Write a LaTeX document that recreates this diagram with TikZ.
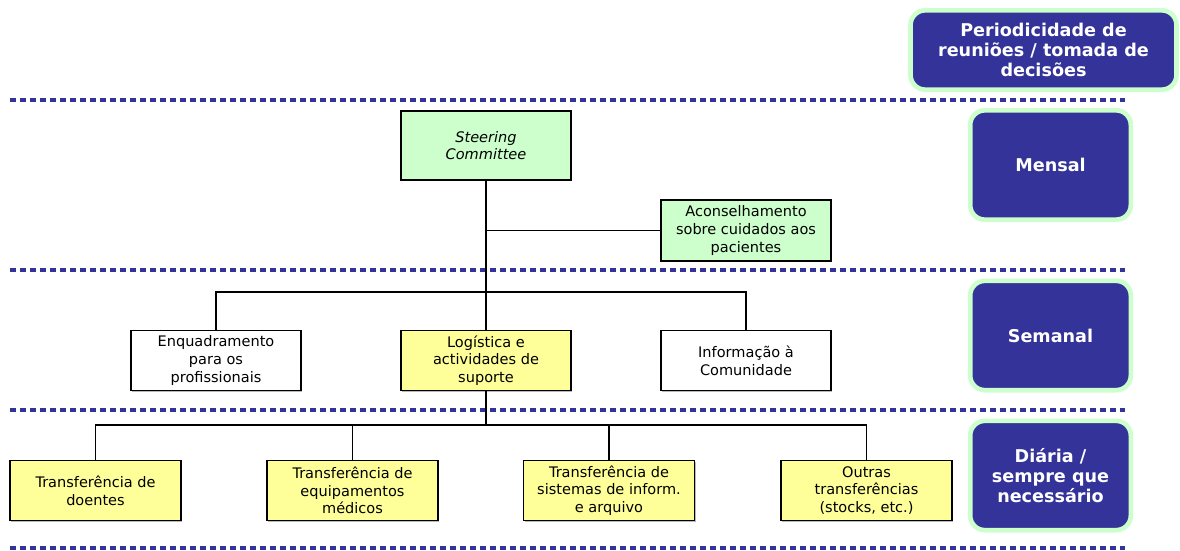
\documentclass[tikz,border=0pt]{standalone}
\usepackage{fontspec}
\setmainfont{DejaVu Sans}
\usetikzlibrary{shadows}
\definecolor{navy}{HTML}{333399}
\definecolor{mint}{HTML}{CCFFCC}
\definecolor{lemon}{HTML}{FFFF99}

\begin{document}
\begin{tikzpicture}[x=0.75pt,y=-0.75pt,
    orgbox/.style={draw=black,line width=0.8pt,minimum width=127.5pt,minimum height=44.5pt,
      align=center,inner sep=1pt,font=\fontsize{10.9}{13.3}\selectfont,
      drop shadow={shadow xshift=1pt,shadow yshift=-1pt,fill=gray!55,opacity=1}},
    greenbox/.style={orgbox,fill=mint},
    yellowbox/.style={orgbox,fill=lemon},
    whitebox/.style={orgbox,fill=white},
    periodbox/.style={rounded corners=11pt,fill=navy,draw=mint,line width=3.5pt,text=white,
      align=center,inner sep=0pt,minimum width=120.5pt,minimum height=82pt,
      font=\bfseries\fontsize{13.2}{15}\selectfont},
    separator/.style={navy,line width=3.5pt,dash pattern=on 4.2pt off 3.3pt},
    link/.style={line width=0.8pt},
    trunk/.style={line width=1.6pt}]
  \useasboundingbox (0,0) rectangle (1180,550);

  % separators between the levels
  \foreach \y in {100,270,410}
    \draw[separator] (10,\y) -- (1125,\y);
  \draw[separator,line width=2.3pt] (10,548) -- (1125,548);

  % meeting frequency column
  \node[periodbox,minimum width=199.5pt,minimum height=59.5pt] (period) at (1043.5,50)
    {Periodicidade de\\reuniões / tomada de\\decisões};
  \node[periodbox] (monthly) at (1050.5,165) {Mensal};
  \node[periodbox] (weekly) at (1050.5,335.5) {Semanal};
  \node[periodbox] (daily) at (1050.5,475.5) {Diária /\\sempre que\\necessário};

  % organisation chart
  \node[greenbox,minimum height=51.75pt] (steer) at (486,145.5) {\itshape Steering\\\itshape Committee};
  \node[greenbox,minimum height=45.75pt] (advice) at (746,230.5) {Aconselhamento\\sobre cuidados aos\\pacientes};

  \node[whitebox] (frame) at (216,360.5) {Enquadramento\\para os\\profissionais};
  \node[yellowbox] (logis) at (486,360.5) {Logística e\\actividades de\\suporte};
  \node[whitebox] (info) at (746,360.5) {Informação à\\Comunidade};

  \node[yellowbox,minimum width=128.25pt] (patients) at (95.5,490.5) {Transferência de\\doentes};
  \node[yellowbox,minimum width=128.25pt] (equip) at (352.5,490.5) {Transferência de\\equipamentos\\médicos};
  \node[yellowbox,minimum width=128.25pt] (systems) at (609,490.5) {Transferência de\\sistemas de inform.\\e arquivo};
  \node[yellowbox,minimum width=128.25pt] (others) at (866.5,490.5) {Outras\\transferências\\(stocks, etc.)};

  \coordinate (upper) at (486,292);
  \coordinate (lower) at (486,425);

  \draw[trunk] (steer.south) -- (upper);
  \draw[link] (steer.south |- advice.west) -- (advice.west);
  \draw[link] (frame.north) |- (upper) -| (info.north);
  \draw[link] (upper) -- (logis.north);

  \draw[trunk] (logis.south) -- (lower);
  \draw[link] (patients.north) |- (lower) -| (others.north);
  \draw[link] (equip.north) -- (equip.north |- lower);
  \draw[link] (systems.north) -- (systems.north |- lower);
\end{tikzpicture}
\end{document}
